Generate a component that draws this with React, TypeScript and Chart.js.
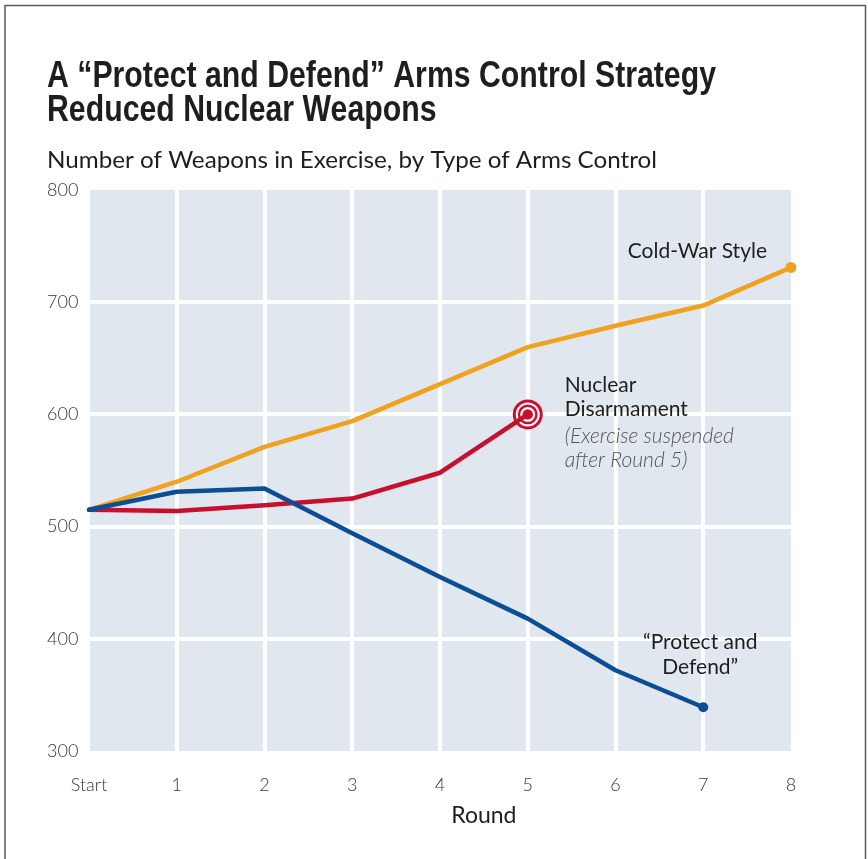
import { useEffect, useRef } from "react";
import { Chart, registerables } from "chart.js";

Chart.register(...registerables);

// Rounds of the exercise and the weapon counts for each arms-control approach
const rounds = ["Start", "1", "2", "3", "4", "5", "6", "7", "8"];
const coldWarStyle = [515, 540, 571, 594, 627, 660, 679, 697, 731];
const nuclearDisarmament = [515, 514, 519, 525, 548, 600];
const protectAndDefend = [515, 531, 534, 494, 455, 418, 372, 339];
const weaponTicks = [300, 400, 500, 600, 700, 800];

const titleLines = ["A “Protect and Defend” Arms Control Strategy", "Reduced Nuclear Weapons"];
const subtitle = "Number of Weapons in Exercise, by Type of Arms Control";
const xAxisTitle = "Round";

const ORANGE = "#f0a11e";
const RED = "#c8102e";
const BLUE = "#0b4e94";
const PLOT_BG = "#e0e7ee";
const TEXT = "#1e1e1e";
const TICK = "#363636";
const BODY_FONT = "Lato, 'Open Sans', sans-serif";

function drawFitted(ctx: CanvasRenderingContext2D, text: string, x: number, y: number, sx: number) {
  ctx.save();
  ctx.translate(x, y);
  ctx.scale(sx, 1);
  ctx.fillText(text, 0, 0);
  ctx.restore();
}

const decorPlugin = {
  id: "decor",
  beforeDraw(chart: any) {
    const { ctx, chartArea: a } = chart;
    ctx.save();
    ctx.fillStyle = "#ffffff";
    ctx.fillRect(0, 0, chart.width, chart.height);
    ctx.fillStyle = PLOT_BG;
    ctx.fillRect(a.left + 1, a.top, a.right - a.left - 1, a.bottom - a.top);
    ctx.restore();
  },
  afterDatasetsDraw(chart: any) {
    const { ctx } = chart;
    // target marker where the disarmament exercise stopped
    const meta = chart.getDatasetMeta(1);
    const pts = meta.data;
    const end = pts[pts.length - 1];
    const prev = pts[pts.length - 2];
    const dx = end.x - prev.x;
    const dy = end.y - prev.y;
    const len = Math.hypot(dx, dy);
    ctx.save();
    ctx.fillStyle = "#ffffff";
    ctx.beginPath();
    ctx.arc(end.x, end.y, 15, 0, Math.PI * 2);
    ctx.fill();
    ctx.strokeStyle = RED;
    ctx.lineCap = "round";
    ctx.lineWidth = 4.5;
    ctx.beginPath();
    ctx.moveTo(end.x - (dx / len) * 15, end.y - (dy / len) * 15);
    ctx.lineTo(end.x, end.y);
    ctx.stroke();
    ctx.lineWidth = 3;
    ctx.beginPath();
    ctx.arc(end.x, end.y, 13.5, 0, Math.PI * 2);
    ctx.stroke();
    ctx.lineWidth = 2.5;
    ctx.beginPath();
    ctx.arc(end.x, end.y, 8.7, 0, Math.PI * 2);
    ctx.stroke();
    ctx.fillStyle = RED;
    ctx.beginPath();
    ctx.arc(end.x, end.y, 5.2, 0, Math.PI * 2);
    ctx.fill();
    ctx.restore();
  },
  afterDraw(chart: any) {
    const { ctx } = chart;
    const xs = chart.scales.x;
    ctx.save();

    // frame
    ctx.strokeStyle = "#5a5a5a";
    ctx.lineWidth = 1.5;
    ctx.strokeRect(5, 5.5, 860.5, chart.height + 20);

    // title
    ctx.fillStyle = TEXT;
    ctx.textBaseline = "alphabetic";
    ctx.textAlign = "left";
    ctx.font = "bold 37px 'Liberation Sans Narrow', 'Liberation Sans', sans-serif";
    const tw = ctx.measureText(titleLines[0]).width;
    const tsx = 669 / tw;
    drawFitted(ctx, titleLines[0], 47, 87, tsx);
    drawFitted(ctx, titleLines[1], 47, 121, tsx);

    // subtitle
    ctx.font = `400 24px ${BODY_FONT}`;
    const sw = ctx.measureText(subtitle).width;
    drawFitted(ctx, subtitle, 47, 168, 610 / sw);

    // x axis title
    ctx.font = `400 23px ${BODY_FONT}`;
    ctx.textAlign = "center";
    ctx.fillText(xAxisTitle, xs.getPixelForValue(4.5), 823);

    // series labels
    ctx.font = `400 21px ${BODY_FONT}`;
    const cw = chart.getDatasetMeta(2).data;
    const cwEnd = cw[cw.length - 1];
    ctx.textAlign = "right";
    ctx.fillText("Cold-War Style", cwEnd.x - 24, cwEnd.y - 9);

    const nd = chart.getDatasetMeta(1).data;
    const ndEnd = nd[nd.length - 1];
    ctx.textAlign = "left";
    ctx.fillText("Nuclear", ndEnd.x + 37, ndEnd.y - 22);
    ctx.fillText("Disarmament", ndEnd.x + 37, ndEnd.y + 2);
    ctx.fillStyle = "#555555";
    ctx.font = `italic 300 21px ${BODY_FONT}`;
    ctx.fillText("(Exercise suspended", ndEnd.x + 37, ndEnd.y + 29);
    ctx.fillText("after Round 5)", ndEnd.x + 37, ndEnd.y + 53);

    const pd = chart.getDatasetMeta(0).data;
    const pdEnd = pd[pd.length - 1];
    ctx.fillStyle = TEXT;
    ctx.font = `400 21px ${BODY_FONT}`;
    ctx.textAlign = "center";
    ctx.fillText("“Protect and", pdEnd.x - 3, pdEnd.y - 58);
    ctx.fillText("Defend”", pdEnd.x - 3, pdEnd.y - 33);

    ctx.restore();
  },
};

const endDot = (data: number[], r: number) => (c: any) => (c.dataIndex === data.length - 1 ? r : 0);

export default function App() {
  const ref = useRef<HTMLCanvasElement>(null);

  useEffect(() => {
    const canvas = ref.current;
    if (!canvas) return;
    const chart = new Chart(canvas, {
      type: "line",
      data: {
        labels: rounds,
        datasets: [
          {
            label: "“Protect and Defend”",
            data: protectAndDefend,
            borderColor: BLUE,
            backgroundColor: BLUE,
            pointRadius: endDot(protectAndDefend, 5),
            order: 0,
          },
          {
            label: "Nuclear Disarmament",
            data: nuclearDisarmament,
            borderColor: RED,
            backgroundColor: RED,
            pointRadius: 0,
            order: 1,
          },
          {
            label: "Cold-War Style",
            data: coldWarStyle,
            borderColor: ORANGE,
            backgroundColor: ORANGE,
            pointRadius: endDot(coldWarStyle, 5.5),
            order: 2,
          },
        ],
      },
      options: {
        responsive: false,
        animation: false,
        devicePixelRatio: 1,
        layout: { padding: { left: 47, top: 190, right: 77, bottom: 48 } },
        plugins: {
          legend: { display: false },
          tooltip: { enabled: false },
        },
        elements: {
          line: {
            borderWidth: 4.5,
            tension: 0,
            borderCapStyle: "round",
            borderJoinStyle: "round",
          },
          point: { radius: 0, borderWidth: 0, hoverRadius: 0 },
        },
        scales: {
          x: {
            type: "category",
            offset: false,
            border: { display: false },
            grid: {
              color: (c: any) => (c.index === 0 || c.index === rounds.length - 1 ? "rgba(0,0,0,0)" : "#ffffff"),
              lineWidth: 4,
              drawTicks: false,
            },
            ticks: {
              padding: 23,
              color: TICK,
              autoSkip: false,
              maxRotation: 0,
              font: { family: BODY_FONT, size: 18, weight: "300" },
            },
            afterFit: (s: any) => {
              s.height = 60;
            },
          },
          y: {
            min: weaponTicks[0],
            max: weaponTicks[weaponTicks.length - 1],
            border: { display: false },
            grid: {
              color: (c: any) =>
                c.tick && (c.tick.value === weaponTicks[0] || c.tick.value === weaponTicks[weaponTicks.length - 1])
                  ? "rgba(0,0,0,0)"
                  : "#ffffff",
              lineWidth: 4,
              drawTicks: false,
            },
            ticks: {
              crossAlign: "far",
              padding: 0,
              color: TICK,
              font: { family: BODY_FONT, size: 18, weight: "300" },
            },
            afterBuildTicks: (s: any) => {
              s.ticks = weaponTicks.map((v) => ({ value: v }));
            },
            afterFit: (s: any) => {
              s.width = 42;
            },
          },
        },
      },
      plugins: [decorPlugin],
    });
    return () => chart.destroy();
  }, []);

  return (
    <div style={{ position: "absolute", left: 0, top: 0, width: 868, height: 859 }}>
      <canvas ref={ref} width={868} height={859} style={{ display: "block", width: 868, height: 859 }} />
    </div>
  );
}
